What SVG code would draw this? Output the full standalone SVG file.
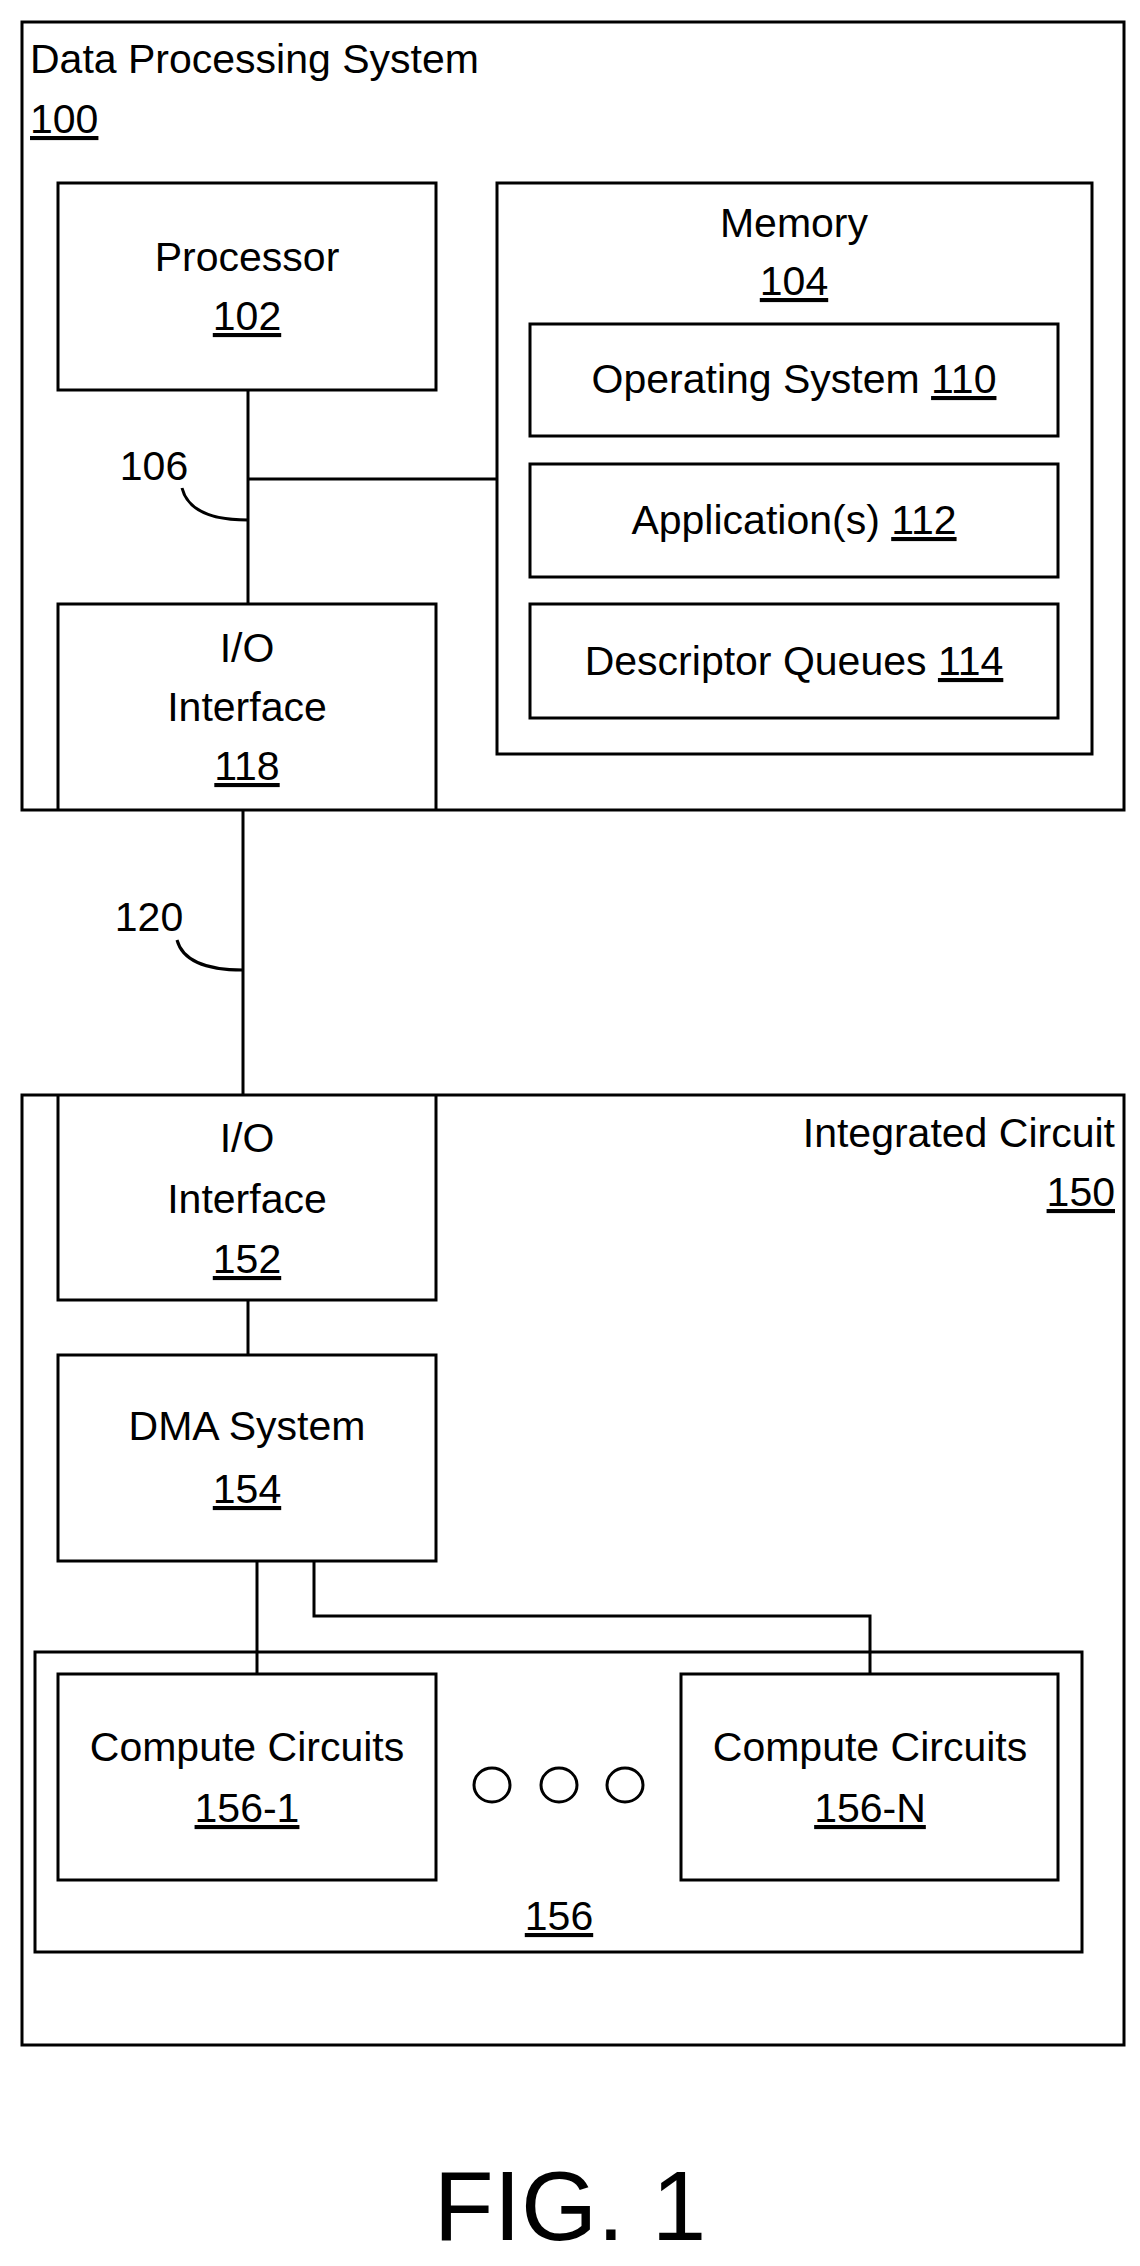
<svg xmlns="http://www.w3.org/2000/svg" width="1140" height="2266" viewBox="0 0 1140 2266">
<style>
rect,path,line,ellipse{fill:none;stroke:#000;stroke-width:3}
rect.bg{fill:#fff;stroke:none}
text{font-family:"Liberation Sans",Arial,sans-serif;font-size:41px;fill:#000}
.c{text-anchor:middle}
.u{text-decoration:underline}
</style>
<rect class="bg" width="1140" height="2266"/>
<g id="dps100"><rect x="22" y="22" width="1102" height="788"/><text x="30" y="73">Data Processing System</text><text x="30" y="133" class="u">100</text></g>
<g id="proc102"><rect x="58" y="183" width="378" height="207"/><text x="247" y="271" class="c">Processor</text><text x="247" y="330" class="c u">102</text></g>
<g id="mem104"><rect x="497" y="183" width="595" height="571"/><text x="794" y="237" class="c">Memory</text><text x="794" y="295" class="c u">104</text></g>
<g id="os110"><rect x="530" y="324" width="528" height="112"/><text x="794" y="393" class="c">Operating System <tspan class="u">110</tspan></text></g>
<g id="app112"><rect x="530" y="464" width="528" height="113"/><text x="794" y="534" class="c">Application(s) <tspan class="u">112</tspan></text></g>
<g id="dq114"><rect x="530" y="604" width="528" height="114"/><text x="794" y="675" class="c">Descriptor Queues <tspan class="u">114</tspan></text></g>
<g id="io118"><path d="M58,810 V604 H436 V810"/><text x="247" y="662" class="c">I/O</text><text x="247" y="721" class="c">Interface</text><text x="247" y="780" class="c u">118</text></g>
<g id="ic150"><rect x="22" y="1095" width="1102" height="950"/><text x="1115" y="1147" text-anchor="end">Integrated Circuit</text><text x="1115" y="1206" text-anchor="end" class="u">150</text></g>
<g id="io152"><path d="M58,1095 V1300 H436 V1095"/><text x="247" y="1152" class="c">I/O</text><text x="247" y="1213" class="c">Interface</text><text x="247" y="1273" class="c u">152</text></g>
<g id="dma154"><rect x="58" y="1355" width="378" height="206"/><text x="247" y="1440" class="c">DMA System</text><text x="247" y="1503" class="c u">154</text></g>
<g id="cc156"><rect x="35" y="1652" width="1047" height="300"/><text x="559" y="1930" class="c u">156</text>
<ellipse cx="492" cy="1785" rx="18" ry="17"/><ellipse cx="559" cy="1785" rx="18" ry="17"/><ellipse cx="625" cy="1785" rx="18" ry="17"/></g>
<g id="cc1561"><rect x="58" y="1674" width="378" height="206"/><text x="247" y="1761" class="c">Compute Circuits</text><text x="247" y="1822" class="c u">156-1</text></g>
<g id="cc156n"><rect x="681" y="1674" width="377" height="206"/><text x="870" y="1761" class="c">Compute Circuits</text><text x="870" y="1822" class="c u">156-N</text></g>
<g id="connectors">
<line x1="248" y1="390" x2="248" y2="604"/>
<line x1="248" y1="479" x2="497" y2="479"/>
<path d="M248,520 Q190,520 182,488"/>
<text x="154" y="480" class="c">106</text>
<line x1="243" y1="810" x2="243" y2="1095"/>
<path d="M243,970 Q185,970 177,940"/>
<text x="149" y="931" class="c">120</text>
<line x1="248" y1="1300" x2="248" y2="1355"/>
<line x1="257" y1="1561" x2="257" y2="1674"/>
<path d="M314,1561 V1616 H870 V1674"/>
</g>
<text x="570" y="2240" class="c" style="font-size:98px">FIG. 1</text>
</svg>
